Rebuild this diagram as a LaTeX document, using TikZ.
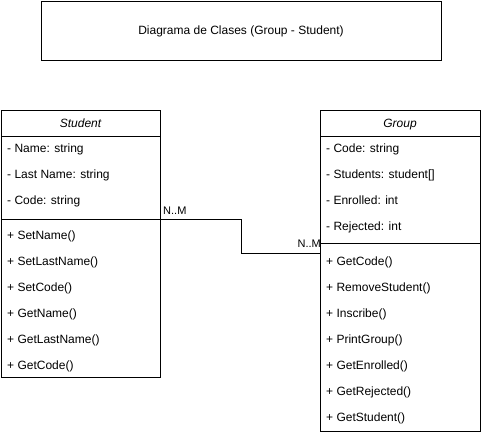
\documentclass[tikz,border=0pt]{standalone}
\usepackage{fontspec}
\setmainfont{Liberation Sans}
\begin{document}
\begin{tikzpicture}[x=1pt,y=-1pt,
  frame/.style={draw, line width=1pt, inner sep=0pt, anchor=north west},
  txt/.style={inner sep=0pt, text height=8.6pt, text depth=2.6pt, font=\fontsize{12}{14}\selectfont},
  item/.style={txt, anchor=west},
  hdr/.style={txt, font=\fontsize{12}{14}\selectfont\itshape},
  sep/.style={line width=1pt},
  conn/.style={line width=1pt},
  mult/.style={txt, font=\fontsize{11}{13}\selectfont}]
\useasboundingbox (0,0) rectangle (481,434);
% title
\node[frame, minimum width=400pt, minimum height=59.5pt] (title) at (40.5,0.5) {};
\node[txt] (titletext) at ([yshift=-0.5pt]title.center) {Diagrama de Clases (Group - Student)};
% Student
\node[frame, minimum width=159pt, minimum height=267pt] (student) at (1,110) {};
\node[hdr] (sthead) at (80.5,124) {Student};
\draw[sep] (1,136) -- (160,136);
\draw[sep] (1,219) -- (160,219);
\node[item] (sa1) at (7,149.5) {- Name: string};
\node[item] (sa2) at (7,175.5) {- Last Name: string};
\node[item] (sa3) at (7,201.5) {- Code: string};
\node[item] (sm1) at (7,236.5) {+ SetName()};
\node[item] (sm2) at (7,262.5) {+ SetLastName()};
\node[item] (sm3) at (7,288.5) {+ SetCode()};
\node[item] (sm4) at (7,314) {+ GetName()};
\node[item] (sm5) at (7,340) {+ GetLastName()};
\node[item] (sm6) at (7,366) {+ GetCode()};
% Group
\node[frame, minimum width=160pt, minimum height=321pt] (group) at (320,110) {};
\node[hdr] (grhead) at (400,124) {Group};
\draw[sep] (320,136) -- (480,136);
\draw[sep] (320,243) -- (480,243);
\node[item] (ga1) at (326,149.5) {- Code: string};
\node[item] (ga2) at (326,175.5) {- Students: student[]};
\node[item] (ga3) at (326,201.5) {- Enrolled: int};
\node[item] (ga4) at (326,227.5) {- Rejected: int};
\node[item] (gm1) at (326,262.5) {+ GetCode()};
\node[item] (gm2) at (326,288.5) {+ RemoveStudent()};
\node[item] (gm3) at (326,314) {+ Inscribe()};
\node[item] (gm4) at (326,340) {+ PrintGroup()};
\node[item] (gm5) at (326,366) {+ GetEnrolled()};
\node[item] (gm6) at (326,392) {+ GetRejected()};
\node[item] (gm7) at (326,418) {+ GetStudent()};
% connector
\draw[conn] ([yshift=-109pt]student.north east) -- ++(80,0) |- ([yshift=-143pt]group.north west);
\node[mult, anchor=west] (m1) at (163,211.5) {N..M};
\node[mult, anchor=east] (m2) at (321,244.5) {N..M};
\end{tikzpicture}
\end{document}
